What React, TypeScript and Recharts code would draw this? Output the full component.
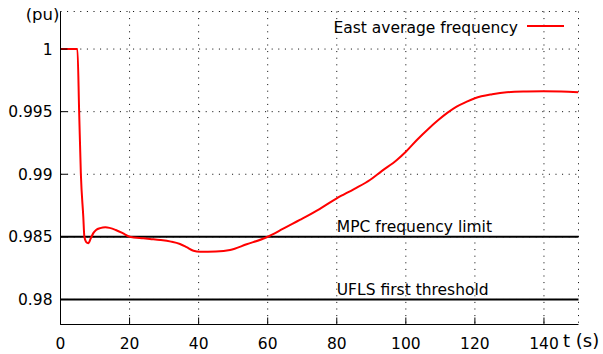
import React from 'react';
import { LineChart, Line, XAxis, YAxis, CartesianGrid, ReferenceLine, ReferenceDot } from 'recharts';

const timeS = [0, 4.9, 5.4, 5.9, 6.6, 6.9, 7.4, 8.05, 8.8, 9.5, 10.3, 11.5, 13, 16, 18, 20, 24, 25.9, 28.9, 32, 34.6, 36.5, 38.5, 40.4, 45, 49.1, 53.9, 59.7, 64.5, 69.3, 75, 80, 85, 89.6, 93, 97.4, 100, 103.2, 106.5, 109.4, 112, 114.7, 117.5, 120, 125, 129.2, 135, 139.8, 145, 150];
const eastFreq = [1.0, 1.0, 0.995, 0.99, 0.98661, 0.98505, 0.9846, 0.98449, 0.9849, 0.9853, 0.98555, 0.9857, 0.98576, 0.98555, 0.9853, 0.98501, 0.98488, 0.98483, 0.98475, 0.98462, 0.98443, 0.98418, 0.98389, 0.98381, 0.98383, 0.98395, 0.98441, 0.98497, 0.98565, 0.98635, 0.98722, 0.98808, 0.98882, 0.98954, 0.99025, 0.99114, 0.9918, 0.99274, 0.99362, 0.99433, 0.9949, 0.9954, 0.99578, 0.99607, 0.99639, 0.99655, 0.99661, 0.99663, 0.99662, 0.99655];

const xTicks = [0, 20, 40, 60, 80, 100, 120, 140];
const yTicks = [0.98, 0.985, 0.99, 0.995, 1];
const xDomain = [0, 150];
const yDomain = [0.978, 1.003];

const thresholdValues = [0.985, 0.98];
const thresholdNames = ['MPC frequency limit', 'UFLS first threshold'];
const thresholdLabelT = 80;

const seriesName = 'East average frequency';
const xLabel = 't (s)';
const yLabel = '(pu)';

const data = timeS.map((t, i) => ({ t, f: eastFreq[i] }));

const FONT = '"DejaVu Sans", Verdana, sans-serif';
const tickStyle = { fill: '#000', fontSize: 15.5, fontFamily: FONT };

const makeLabel = (text: string, dy: number) => (props: any) => {
  const vb = props.viewBox || {};
  return (
    <text x={(vb.x || 0) + 1} y={(vb.y || 0) + 1 + dy} fill="#000" fontSize={15.5} fontFamily={FONT} textAnchor="start">
      {text}
    </text>
  );
};

const labelOffsets = [-5, -4];

export default function App() {
  return (
    <div style={{ position: 'absolute', left: 0, top: 0, width: 603, height: 354, background: '#fff' }}>
      <LineChart width={603} height={354} data={data} margin={{ top: 11.5, right: 24.5, bottom: 0, left: 0.5 }}>
        <CartesianGrid stroke="#000" strokeDasharray="1 5.6" strokeWidth={1} />
        <XAxis
          dataKey="t"
          type="number"
          domain={xDomain}
          ticks={xTicks}
          interval={0}
          allowDataOverflow
          height={29.5}
          tickSize={-7}
          tickMargin={20}
          axisLine={{ stroke: '#000', strokeWidth: 1 }}
          tickLine={{ stroke: '#000', strokeWidth: 1 }}
          tick={tickStyle}
        />
        <XAxis
          xAxisId="top"
          orientation="top"
          type="number"
          domain={xDomain}
          ticks={xTicks}
          interval={0}
          allowDataOverflow
          height={0}
          tickSize={-7}
          axisLine={{ stroke: '#000', strokeWidth: 1 }}
          tickLine={{ stroke: '#000', strokeWidth: 1 }}
          tick={false}
        />
        <YAxis
          type="number"
          domain={yDomain}
          ticks={yTicks}
          interval={0}
          allowDataOverflow
          width={60}
          tickSize={-7}
          tickMargin={15}
          axisLine={{ stroke: '#000', strokeWidth: 1 }}
          tickLine={{ stroke: '#000', strokeWidth: 1 }}
          tick={tickStyle}
        />
        <YAxis
          yAxisId="right"
          orientation="right"
          type="number"
          domain={yDomain}
          ticks={yTicks}
          interval={0}
          allowDataOverflow
          width={0}
          tickSize={-7}
          axisLine={{ stroke: '#000', strokeWidth: 1 }}
          tickLine={{ stroke: '#000', strokeWidth: 1 }}
          tick={false}
        />
        {thresholdValues.map((v) => (
          <ReferenceLine key={'rl' + v} y={v} stroke="#000" strokeWidth={2} />
        ))}
        {thresholdValues.map((v, i) => (
          <ReferenceDot
            key={'rd' + v}
            x={thresholdLabelT}
            y={v}
            r={1}
            fill="none"
            stroke="none"
            label={makeLabel(thresholdNames[i], labelOffsets[i])}
          />
        ))}
        <Line
          dataKey="f"
          type="monotone"
          stroke="#ff0000"
          strokeWidth={2}
          dot={false}
          activeDot={false}
          isAnimationActive={false}
          name={seriesName}
        />
      </LineChart>
      <svg width={603} height={354} style={{ position: 'absolute', left: 0, top: 0, pointerEvents: 'none' }}>
        <text x={518} y={33} fill="#000" fontSize={15.5} fontFamily={FONT} textAnchor="end">{seriesName}</text>
        <line x1={527} y1={26} x2={564} y2={26} stroke="#ff0000" strokeWidth={2} />
        <text x={59.5} y={19.5} fill="#000" fontSize={16.5} fontFamily={FONT} textAnchor="end">{yLabel}</text>
        <text x={563} y={346.5} fill="#000" fontSize={18} fontFamily={FONT} textAnchor="start">{xLabel}</text>
      </svg>
    </div>
  );
}
